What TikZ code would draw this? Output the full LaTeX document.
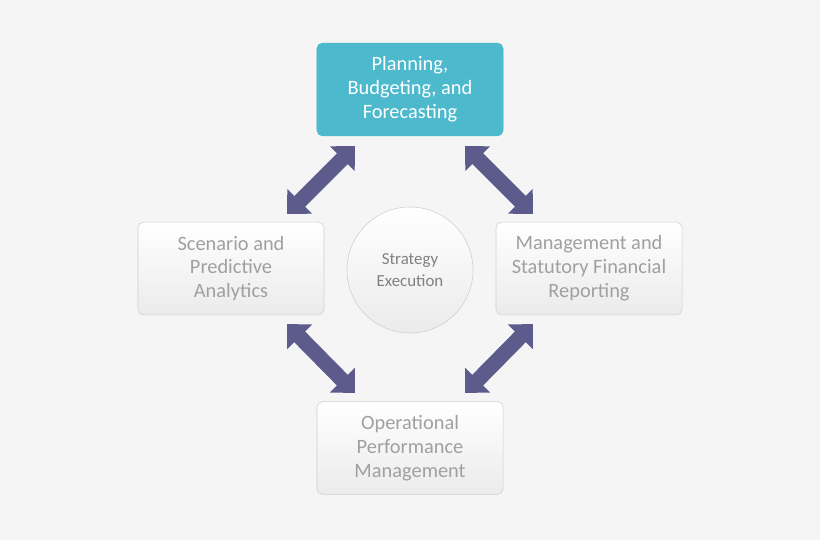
\documentclass[tikz,border=0pt]{standalone}
\usepackage{fontspec}
\setmainfont{Carlito}
\usetikzlibrary{arrows.meta}
\definecolor{PlanTeal}{HTML}{4DB9CD}
\definecolor{BoxGray}{HTML}{EBEBEB}
\definecolor{EdgeGray}{HTML}{CFCFCF}
\definecolor{TextGray}{HTML}{A0A0A0}
\definecolor{ArrowPurple}{HTML}{5C5B8C}
\definecolor{BackGray}{HTML}{F5F5F5}

\begin{document}
\begin{tikzpicture}[
      x=0.025cm, y=-0.025cm,
      every node/.style={align=center, font=\fontsize{14.5}{17}\selectfont},
      box/.style={draw=EdgeGray, top color=white, bottom color=BoxGray, rounded corners=4pt, minimum width=4.65cm, minimum height=2.32cm, text=TextGray},
      hub/.style={circle, draw=EdgeGray, top color=white, bottom color=BoxGray, minimum size=3.15cm, text=gray, font=\fontsize{12}{16}\selectfont},
      arrow/.style={ArrowPurple, line width=0.38cm, {Triangle[width=0.85cm,length=0.45cm]}-{Triangle[width=0.85cm,length=0.45cm]}}
    ]
      \fill[BackGray] (0,0) rectangle (820,540);
      \useasboundingbox (0,0) rectangle (820,540);

      % Boxes
      \node[box, fill=PlanTeal, top color=PlanTeal, bottom color=PlanTeal, draw=PlanTeal, text=white] (plan) at (410,89.5) {Planning,\\Budgeting, and\\Forecasting};
      \node[box] (scenario) at (231,268.5) {Scenario and\\Predictive\\Analytics};
      \node[box] (report) at (589,268.5) {Management and\\Statutory Financial\\Reporting};
      \node[box] (ops) at (410,448) {Operational\\Performance\\Management};
      \node[hub] (strategy) at (410,270) {Strategy\\Execution};

      % Arrow ends
      \coordinate (planL) at (355,146);
      \coordinate (planR) at (465,146);
      \coordinate (scenT) at (287,214);
      \coordinate (scenB) at (287,324);
      \coordinate (repT) at (533,214);
      \coordinate (repB) at (533,324);
      \coordinate (opsL) at (355,393);
      \coordinate (opsR) at (465,393);

      % Arrows
      \draw[arrow] (planL) -- (scenT);
      \draw[arrow] (planR) -- (repT);
      \draw[arrow] (scenB) -- (opsL);
      \draw[arrow] (repB) -- (opsR);
    \end{tikzpicture}
\end{document}
